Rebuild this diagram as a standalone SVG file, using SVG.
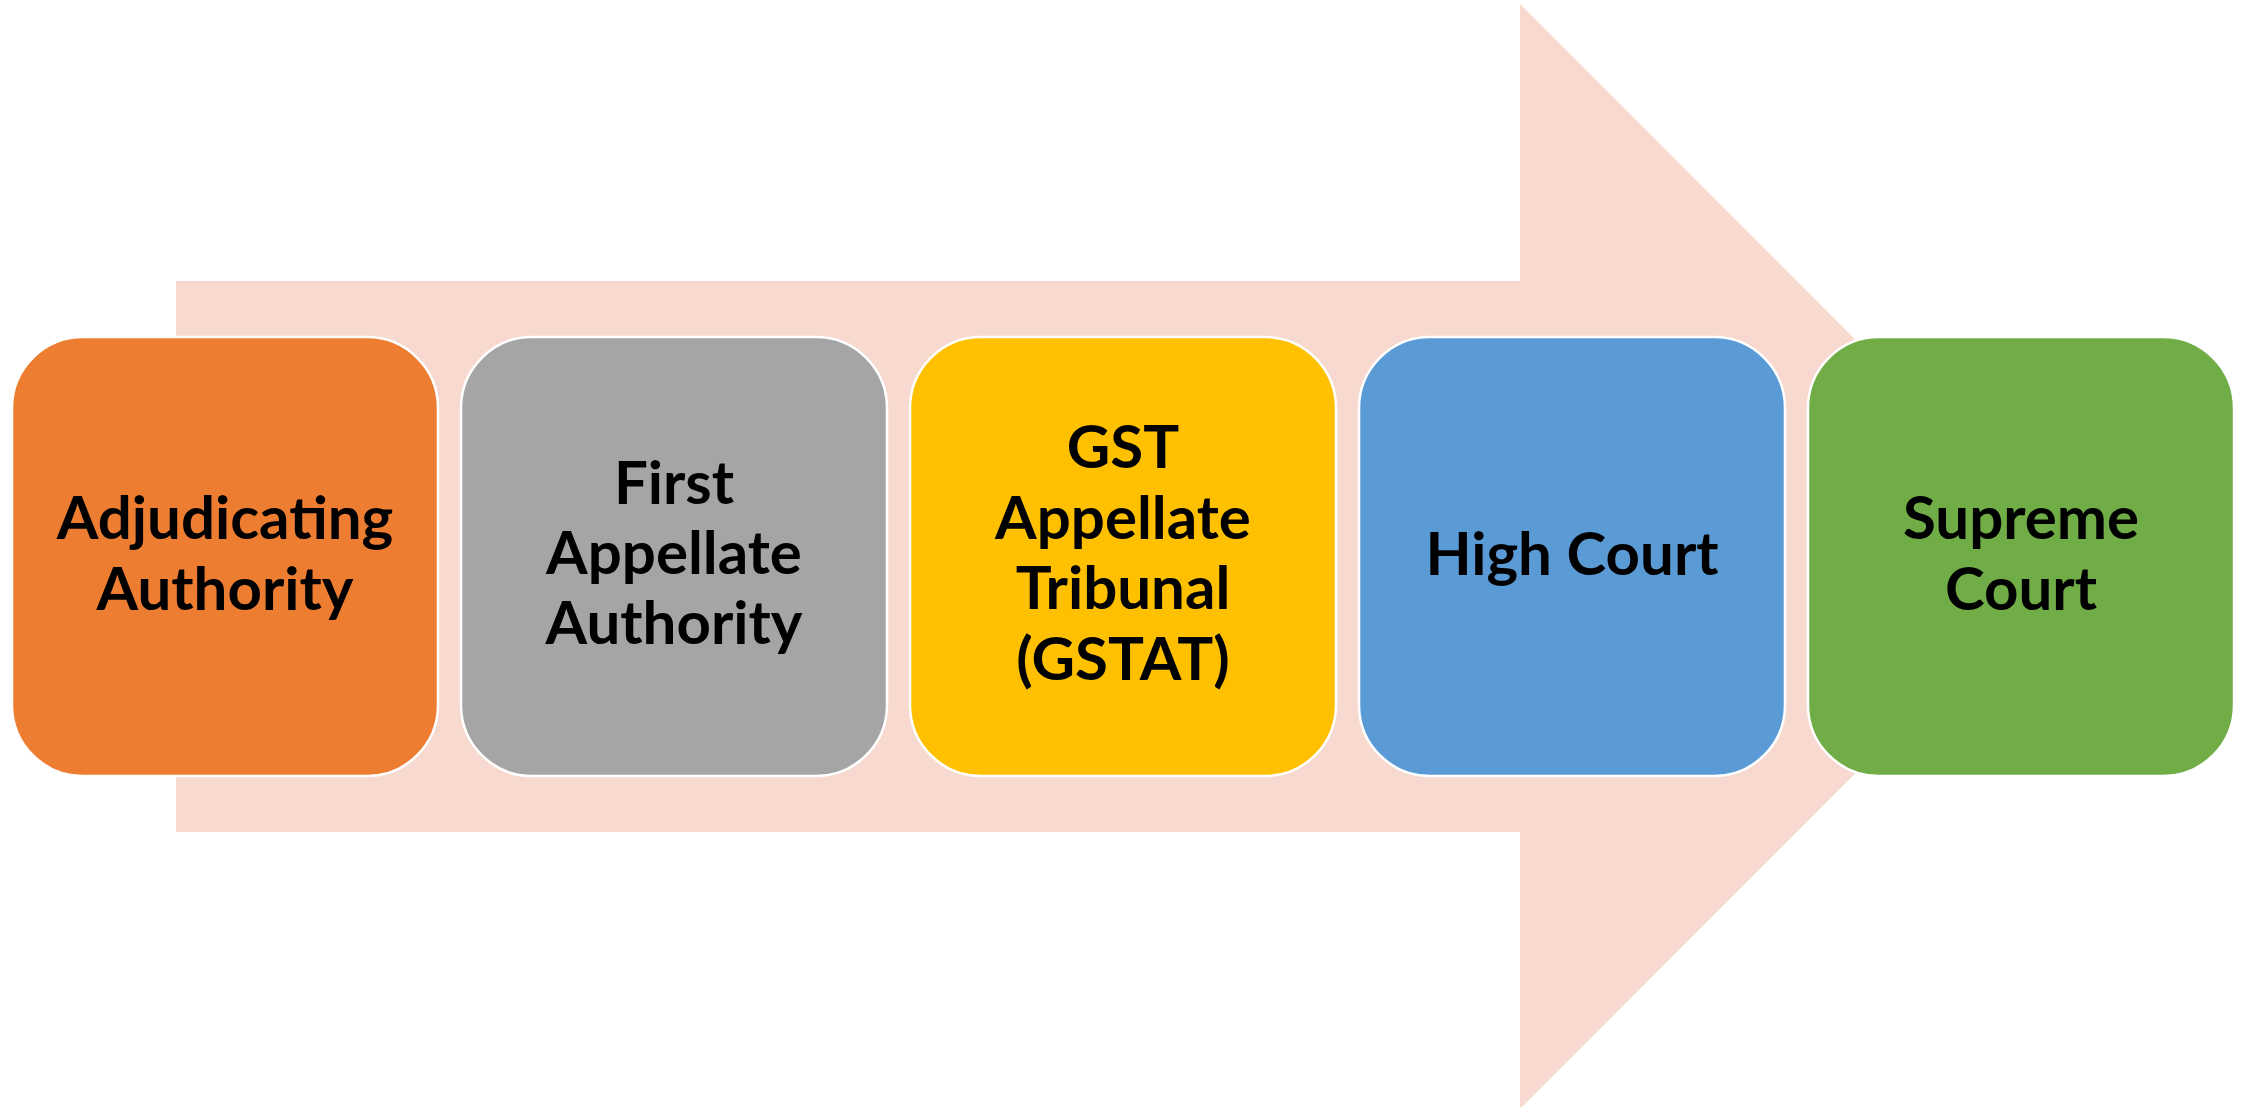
<svg xmlns="http://www.w3.org/2000/svg" width="2241" height="1107" viewBox="0 0 2241 1107">
<style>
.box{stroke:#FFFFFF;stroke-width:2.5}
.lbl{font-family:Lato,"Open Sans","Liberation Sans",sans-serif;font-weight:700;font-size:60px;fill:#000000;text-anchor:middle}
</style>
<rect width="2241" height="1107" fill="#FFFFFF"/>
<g id="connectors">
<polygon points="176,281 1520,281 1520,4 2072,556.5 1520,1109 1520,832 176,832" fill="#F7D9CF"/>
</g>
<g id="node-adjudicating">
<rect class="box" x="12" y="337" width="426" height="439" rx="71" ry="71" fill="#ED7D31"/>
<text class="lbl" x="225" y="539">Adjudicating</text>
<text class="lbl" x="225" y="610">Authority</text>
</g>
<g id="node-first-appellate">
<rect class="box" x="461" y="337" width="426" height="439" rx="71" ry="71" fill="#A5A5A5"/>
<text class="lbl" x="674" y="504">First</text>
<text class="lbl" x="674" y="574">Appellate</text>
<text class="lbl" x="674" y="644">Authority</text>
</g>
<g id="node-gstat">
<rect class="box" x="910" y="337" width="426" height="439" rx="71" ry="71" fill="#FFC000"/>
<text class="lbl" x="1123" y="468">GST</text>
<text class="lbl" x="1123" y="539">Appellate</text>
<text class="lbl" x="1123" y="609">Tribunal</text>
<text class="lbl" x="1123" y="680">(GSTAT)</text>
</g>
<g id="node-high-court">
<rect class="box" x="1359" y="337" width="426" height="439" rx="71" ry="71" fill="#5B9BD5"/>
<text class="lbl" x="1572" y="575">High Court</text>
</g>
<g id="node-supreme-court">
<rect class="box" x="1808" y="337" width="426" height="439" rx="71" ry="71" fill="#70AD47"/>
<text class="lbl" x="2021" y="539">Supreme</text>
<text class="lbl" x="2021" y="610">Court</text>
</g>
</svg>
